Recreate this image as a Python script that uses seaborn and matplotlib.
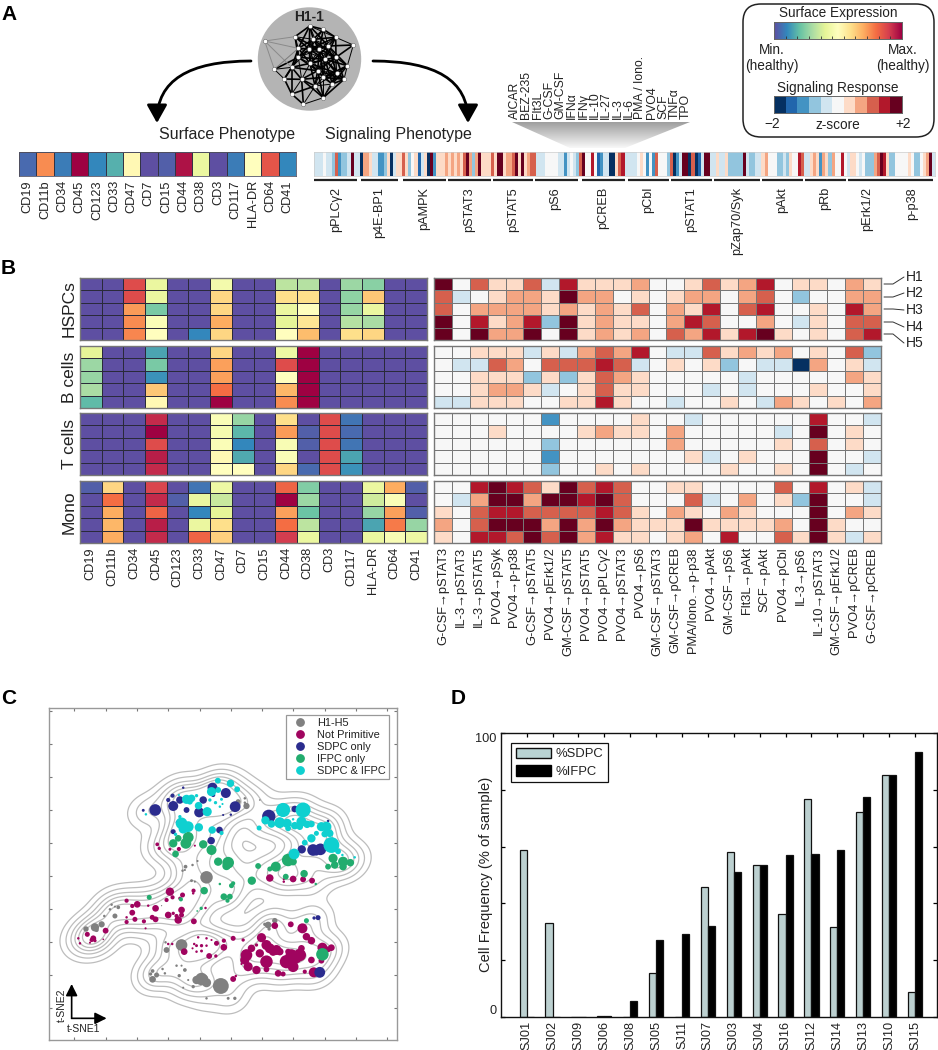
import numpy as np, pandas as pd
import matplotlib
matplotlib.use("Agg")
import matplotlib.pyplot as plt
from matplotlib.patches import Circle, FancyArrowPatch, FancyBboxPatch, Polygon, Patch
from matplotlib.lines import Line2D
import seaborn as sns

sns.set_theme(style="white")
plt.rcParams['font.family'] = ['Liberation Sans', 'DejaVu Sans']
plt.rcParams['axes.unicode_minus'] = True

W, H = 938, 1050
TXT = '#222222'

surface_markers = ["CD19","CD11b","CD34","CD45","CD123","CD33","CD47","CD7","CD15","CD44","CD38","CD3","CD117","HLA-DR","CD64","CD41"]
h1_surface = [.05,.75,.08,1.0,.1,.17,.52,0,.03,.97,.42,0,.08,.5,.85,.1]

stimuli = ["AICAR","BEZ-235","Flt3L","G-CSF","GM-CSF","IFNα","IFNγ","IL-10","IL-27","IL-3","IL-6","PMA / Iono.","PVO4","SCF","TNFα","TPO"]
phospho_names = ["pPLCγ2","p4E-BP1","pAMPK","pSTAT3","pSTAT5","pS6","pCREB","pCbl","pSTAT1","pZap70/Syk","pAkt","pRb","pErk1/2","p-p38"]
bar_pPLC = [-1,-1,-1,0,-1,-1,-2,3,-3,-2,-2,-1,5,-1,-1]
bar_p4E = [-5,2,2,1,-1,-1,-3,-3,-2,1,-5,-1,1]
bar_pAMPK = [1,3,1,-2,0,1,-4,-1,1,-5,5,-3,1,1,1]
bar_pSTAT3 = [2,1,2,1,2,1,3,5,2,-2,2,5,1,1,1]
bar_pSTAT5 = [3,1,5,5,1,2,2,3,5,1,5,1,2,3]
bar_pS6 = [3,-1,-1,-1,0,0,0,0,-1,-1,-3,-1,0,-1,-2]
bar_pCREB = [3,5,0,0,4,0,-4,-3,-1,-1,-5,-5,1,3,4]
bar_pCbl = [-1,-1,-1,-1,0,1,0,-3,0,-3,3,0,0,0]
bar_pSTAT1 = [-2,3,-5,-3,-1,5,5,-5,3,-5,-4,-1,5,5]
bar_pZap = [-1,-1,1,-1,-1,1,-2,-2,-2,-2,-2,5,-1,-2,-2,-1]
bar_pAkt = [-1,1,2,0,0,0,-2,-2,-1,-2,1,0,0,4]
bar_pRb = [3,-1,-1,1,2,1,-3,2,1,-2,2,0,0,4]
bar_pErk = [0,-1,1,1,0,-1,0,-2,-2,-2,2,3,5,4,1]
bar_pp38 = [-2,-2,0,0,0,0,1,0,-2,-2,0,1,2,5,-1]

surf_hspc = [[0,0,.87,.42,0,0,.45,0,0,.33,.32,0,.28,.25,0,0],
             [0,0,.87,.42,0,0,.62,0,0,.6,.6,0,.26,.65,0,0],
             [0,0,.73,.23,0,0,.62,0,0,.42,.5,0,.27,.42,0,0],
             [0,0,.75,.48,0,0,.7,0,0,.4,.58,0,.32,.3,0,0],
             [0,0,.76,.5,0,.1,.62,0,0,.5,.67,0,.6,.62,0,0]]
surf_b = [[.4,0,0,.15,0,0,.62,0,0,.43,1,0,0,0,0,0],
          [.28,0,0,.23,0,0,.72,0,0,.87,1,0,0,0,0,0],
          [.27,0,0,.12,0,0,.72,0,0,.5,1,0,0,0,0,0],
          [.3,0,0,.65,0,0,.8,0,0,.68,1,0,0,0,0,0],
          [.19,0,0,.52,0,0,1,0,0,.75,1,0,0,0,0,0]]
surf_t = [[0,0,0,.93,0,0,.48,.27,0,.6,0,.87,.07,0,0,0],
          [0,0,0,1,0,0,.46,.18,0,.73,.03,.87,.05,0,0,0],
          [0,0,0,.87,0,0,.48,.1,0,.47,.03,.87,.07,0,0,0],
          [0,0,0,.95,0,0,.52,.16,0,.48,0,.87,.15,0,0,0],
          [0,0,0,.93,0,0,.5,.5,0,.62,.05,.87,.12,0,0,0]]
surf_mono = [[.03,.62,0,.88,0,.07,.43,0,0,.82,.24,0,0,.42,.7,.03],
             [0,.8,0,.93,.03,.42,.35,0,0,1,.28,0,0,.36,.48,0],
             [0,.7,0,.82,0,.1,.4,0,0,.72,.21,0,0,.27,.72,.03],
             [0,.68,0,.95,0,.42,.6,0,0,.8,.33,0,0,.15,.78,.27],
             [0,.7,0,.93,0,.82,.63,0,0,.9,.42,0,0,.42,.47,.43]]

signal_labels = ["G-CSF→pSTAT3","IL-3→pSTAT3","IL-3→pSTAT5","PVO4→pSyk","PVO4→p-p38","G-CSF→pSTAT5","PVO4→pErk1/2","GM-CSF→pSTAT5","PVO4→pSTAT5","PVO4→pPLCγ2","PVO4→pSTAT3","PVO4→pS6","GM-CSF→pSTAT3","GM-CSF→pCREB","PMA/Iono.→p-p38","PVO4→pAkt","GM-CSF→pS6","Flt3L→pAkt","SCF→pAkt","PVO4→pCbl","IL-3→pS6","IL-10→pSTAT3","GM-CSF→pErk1/2","PVO4→pCREB","G-CSF→pCREB"]
sig_hspc = [[5,0,3,1,1,3,-1,4,1,1,1,2,0,0,1,3,1,2,4,0,1,1,0,2,1],
            [3,-1,0,1,2,2,1,5,2,2,0,1,0,1,2,2,0,2,3,0,-2,0,0,2,2],
            [3,0,2,2,2,2,1,2,1,2,1,3,0,2,1,4,0,3,4,0,0,1,0,4,2],
            [5,0,4,1,2,4,-2,5,1,2,1,1,0,2,4,3,0,0,2,0,-1,1,0,3,3],
            [5,0,5,2,2,5,0,5,1,2,1,2,0,3,2,4,1,4,5,1,0,1,0,3,4]]
sig_b = [[0,0,1,1,1,-1,1,-1,2,3,2,4,0,-1,-1,3,1,2,1,2,0,1,0,3,-2],
         [0,-1,-1,3,2,0,3,3,3,4,3,-1,0,1,0,1,-2,0,-1,-1,-5,2,0,1,-1],
         [0,0,1,1,1,-2,1,-2,1,3,2,1,0,0,0,0,0,-1,0,0,0,0,0,2,1],
         [0,0,1,2,2,1,-1,0,1,3,1,1,0,0,0,-1,0,-1,0,0,0,1,0,0,1],
         [-1,-1,1,1,1,0,0,1,1,4,1,0,0,-1,0,0,1,0,-1,2,1,0,1,0,2]]
sig_t = [[0,0,0,0,0,0,-3,0,0,0,0,1,0,0,-1,0,0,0,0,0,0,4,0,0,-1],
         [0,0,0,1,0,0,0,0,1,2,1,1,0,2,0,0,0,0,0,-1,0,5,0,1,0],
         [0,0,0,0,0,0,-2,0,0,0,0,0,0,2,0,0,0,0,0,1,0,3,0,1,0],
         [0,0,0,0,0,0,-3,0,0,0,0,0,0,0,1,-1,0,1,0,0,0,5,0,0,-1],
         [0,0,0,0,0,0,-2,0,0,1,0,1,0,0,0,0,1,0,0,1,0,5,0,-1,0]]
sig_mono = [[0,0,4,5,4,3,1,5,3,4,3,0,0,1,1,0,0,0,0,3,0,4,0,1,-1],
            [0,-1,2,5,5,2,5,5,4,5,3,0,0,0,3,-1,0,2,0,1,-2,5,0,0,-1],
            [1,0,3,4,4,3,3,3,3,4,3,1,0,2,1,0,2,1,0,0,0,5,0,2,1],
            [2,0,3,5,5,5,2,5,2,5,2,1,1,1,5,1,1,1,1,2,0,5,1,0,0],
            [1,0,4,4,3,5,3,5,2,4,1,1,0,1,2,0,4,0,0,3,1,5,1,-1,1]]
population_names = ["HSPCs","B cells","T cells","Mono"]
h_names = ["H1","H2","H3","H4","H5"]

pts_h = [(620,592,30),(545,795,28),(663,918,38),(605,897,30),(620,908,22),(590,900,20),(615,895,16),(285,742,20),(305,733,15),(258,747,13),(290,750,10),(345,708,12),(355,682,9),(335,674,6),(345,680,5),(330,688,6),(313,708,6),(500,810,14),(497,787,6),(805,735,16),(825,722,13),(808,747,8),(795,733,8),(458,898,16),(458,873,9),(470,885,12),(452,882,8),(488,867,6),(495,880,6),(530,857,6),(545,857,5),(555,870,9),(538,887,8),(565,900,5),(580,920,8),(550,923,5),(620,955,6),(685,955,7),(705,955,8),(715,365,12),(740,378,15),(735,355,6),(780,360,4),(735,368,6),(575,602,7),(585,605,5),(557,560,9),(578,555,6),(593,543,5),(548,572,6),(555,570,5),(485,677,3)]
pts_np = [(785,773,22),(800,795,24),(830,810,24),(810,805,24),(780,820,20),(800,845,30),(820,815,20),(740,825,28),(735,840,22),(755,805,18),(745,860,22),(770,870,20),(800,868,14),(835,880,16),(850,882,12),(860,845,32),(880,860,26),(900,825,30),(875,825,28),(890,835,24),(905,805,16),(865,815,14),(840,815,18),(935,840,16),(908,745,24),(920,770,18),(935,782,18),(915,875,10),(942,877,24),(968,803,24),(995,803,16),(985,808,14),(965,842,14),(825,737,16),(873,733,14),(700,775,12),(730,780,8),(672,782,10),(672,802,16),(650,790,12),(648,828,8),(628,828,14),(553,815,16),(505,792,6),(517,792,6),(583,792,6),(595,772,6),(620,775,6),(635,780,5),(620,797,6),(605,797,8),(590,797,7),(578,805,5),(605,813,7),(590,815,6),(700,897,14),(708,888,6),(725,852,5),(770,795,8),
          (317,752,14),(262,763,12),(280,775,14),(275,780,10),(285,782,8),(235,775,6),(240,790,6),(270,788,5),(310,778,4),(380,662,10),(397,678,10),(412,673,16),(397,698,14),(380,712,6),(405,718,12),(380,726,10),(432,724,10),(437,745,5),(457,712,12),(467,718,14),(467,685,16),(445,677,6),(500,660,10),(510,635,20),(518,652,10),(548,645,12),(540,655,8),(581,632,10),(580,640,6),(608,632,8),(505,705,16),(520,700,8),(545,690,16),(545,705,12),(535,720,18),(530,708,10),(582,724,14),(617,684,6),
          (472,493,9),(478,505,8),(510,508,7),(537,507,10),(585,497,5),(810,594,18),(880,597,16),(852,605,6),(910,598,14),(937,602,14),(852,598,5)]
pts_sd = [(466,390,28),(520,378,24),(540,360,18),(505,360,10),(518,347,10),(550,323,6),(430,391,7),(560,390,14),(610,360,18),(598,397,24),(638,323,24),(678,339,24),(706,380,26),(693,404,6),(670,405,5),(652,328,6),(807,409,32),(885,387,16),(985,423,6),(520,455,12),(533,427,9),(634,482,18),(659,450,16),(906,508,20),(940,510,28),(962,508,28),(950,518,14),(960,877,26),(943,714,8),(955,713,12),(640,345,10)]
pts_if = [(520,490,20),(535,475,16),(565,472,26),(558,490,26),(527,522,16),(610,493,20),(635,510,24),(655,545,20),(685,548,28),(680,558,20),(775,558,14),(756,602,20),(700,610,10),(695,617,12),(672,650,16),(690,650,14),(683,662,10),(613,632,18),(660,612,6),(604,685,8),(592,693,4),(543,658,10),(448,652,12),(828,560,24),(810,567,12),(858,590,14),(865,540,30),(880,545,18),(913,581,18),(948,612,6),(1000,535,22),(985,560,14),(1005,555,18),(1030,545,24),(1030,560,18),(1052,548,18),(968,823,30),(920,722,12)]
pts_both = [(850,390,34),(910,390,36),(654,302,14),(692,310,18),(712,328,14),(560,358,22),(575,355,18),(570,365,14),(596,377,18),(622,395,22),(635,335,22),(655,330,14),(630,360,8),(647,368,8),(665,358,7),(660,380,6),(668,372,5),(590,347,8),(537,345,5),(438,403,6),(545,430,28),(565,440,26),(550,447,22),(597,442,20),(637,450,18),(540,410,8),(527,463,8),(665,459,10),(778,444,12),(797,421,20),(815,432,18),(840,428,26),(862,430,22),(880,418,6),(865,445,14),(885,437,18),(905,425,24),(900,440,16),(922,433,18),(935,432,16),(965,440,22),(980,440,24),(990,460,18),(975,462,16),(995,495,38),(935,475,20),(950,460,12),(915,488,14),(883,522,26),(1015,514,14),(1028,525,6),(1065,532,6)]
group_names = ["H1-H5","Not Primitive","SDPC only","IFPC only","SDPC & IFPC"]
group_colors = ["#808080","#a0045f","#2b2c8e","#22ac6e","#0fd0d0"]

samples = ["SJ01","SJ02","SJ09","SJ06","SJ08","SJ05","SJ11","SJ07","SJ03","SJ04","SJ16","SJ12","SJ14","SJ13","SJ10","SJ15"]
sdpc = [58.7,33.2,0,.4,0,15.6,0,45.8,58.1,53.4,36.3,76.9,31.8,72.2,85.1,8.8]
ifpc = [0,0,0,.2,5.6,27.2,29.3,32,51,53.4,57.2,57.3,58.9,77.5,85.1,93.3]

net_nodes = [(929,78),(970,88),(885,110),(1007,112),(940,118),(985,138),(1060,135),(895,145),(928,148),(958,148),(1008,172),(975,178),(930,190),(875,202),(823,208),(1042,197),(953,212),(1010,220),(905,238),(853,237),(970,232),(1032,238),(945,258),(997,252),(875,282),(970,293),(910,313),(895,172)]
net_outlier = (794,123)

fig = plt.figure(figsize=(W/100, H/100), dpi=100)

def px_ax(x0, y0, x1, y1, **kw):
    return fig.add_axes([x0/W, 1-y1/H, (x1-x0)/W, (y1-y0)/H], **kw)

ov = px_ax(0, 0, W, H, zorder=5)
ov.set_xlim(0, W); ov.set_ylim(H, 0); ov.axis('off'); ov.patch.set_alpha(0)

spectral = plt.get_cmap("Spectral_r")
rdbu = plt.get_cmap("RdBu_r", 11)

def frame(ax, color='#777777', lw=1.0):
    for s in ax.spines.values():
        s.set_visible(True); s.set_color(color); s.set_linewidth(lw)

# ---------- Panel A
for lab, x, y in [("A", 1, 14), ("B", 1, 269), ("C", 1, 699), ("D", 451, 699)]:
    ov.text(x, y, lab, fontsize=15, fontweight='bold', color='black', va='center', ha='left')

ov.add_patch(Circle((309.5, 59), 51.7, fc='#b4b4b4', ec='none'))
ov.text(309, 17, "H1-1", fontsize=10, fontweight='bold', ha='center', va='center', color='#222222')
nodes = np.array(net_nodes)/3
for i in range(len(nodes)):
    for j in range(i+1, len(nodes)):
        d = np.hypot(*(nodes[i]-nodes[j]))
        if d < 29:
            ov.plot(*zip(nodes[i], nodes[j]), color='black', lw=1.2 if (i+j) % 3 else 0.7, zorder=3)
out = np.array(net_outlier)/3
for j in [2, 7, 14, 13]:
    ov.plot(*zip(out, nodes[j]), color='#8a8a8a', lw=0.7, zorder=3)
ov.plot(*zip(nodes[14], nodes[7]), color='#7a7a7a', lw=0.7, zorder=3)
ov.scatter(*np.vstack([nodes, out]).T, s=9, c='white', edgecolors='#444444', linewidths=0.3, zorder=4)

for (a, b) in [((251, 61), (157, 123)), ((373, 61), (468, 123))]:
    ov.add_patch(FancyArrowPatch(a, b, connectionstyle="angle3,angleA=0,angleB=90",
                 arrowstyle="-|>,head_length=0.5,head_width=0.28", mutation_scale=22, lw=2, color='black', shrinkA=0, shrinkB=0))
ov.text(295, 135, "Surface Phenotype", fontsize=11.5, ha='right', va='center', color=TXT)
ov.text(325, 135, "Signaling Phenotype", fontsize=11.5, ha='left', va='center', color=TXT)

ax = px_ax(19, 152, 296, 176)
sns.heatmap(np.array([h1_surface]), ax=ax, cmap=spectral, vmin=0, vmax=1, cbar=False, linewidths=0.6, linecolor='#333344',
            xticklabels=surface_markers, yticklabels=False)
ax.tick_params(axis='x', length=0, pad=3, labelsize=9.2, labelcolor=TXT, rotation=90)
frame(ax, '#555566', 0.6)

groups = [bar_pPLC, bar_p4E, bar_pAMPK, bar_pSTAT3, bar_pSTAT5, bar_pS6, bar_pCREB, bar_pCbl, bar_pSTAT1, bar_pZap, bar_pAkt, bar_pRb, bar_pErk, bar_pp38]
barcode = np.array(sum(groups, []))
ax = px_ax(314, 152, 935, 176)
sns.heatmap(barcode[None, :], ax=ax, cmap=rdbu, vmin=-5.5, vmax=5.5, cbar=False, xticklabels=False, yticklabels=False)
frame(ax, '#cccccc', 0.5)
spans = [(314,357),(361,398),(403,446),(448,491),(493,533),(535,578),(582,625),(628,669),(671,712),(714,760),(762,803),(805,846),(848,890),(890,933)]
label_x = [336,379,424,469,513,555,603,648,691,737,782,825,867,912]
for i, ((s0, s1), name) in enumerate(zip(spans, phospho_names)):
    ov.plot([s0, s1], [180, 180], color='#222222', lw=1.6, solid_capstyle='butt')
    ov.text(label_x[i], 187, name, rotation=90, ha='center', va='top', fontsize=9.2, color=TXT)

grad = ov.imshow(np.linspace(0.62, 0.97, 64)[:, None], extent=(512, 690, 148, 122), cmap='gray', vmin=0, vmax=1, aspect='auto', zorder=1)
wedge = Polygon([(512, 122), (690, 122), (625, 148), (570, 148)], transform=ov.transData, fc='none', ec='none')
ov.add_patch(wedge); grad.set_clip_path(wedge)
ov.set_xlim(0, W); ov.set_ylim(H, 0)
stim_x = np.linspace(515, 686, len(stimuli))
for x, s in zip(stim_x, stimuli):
    ov.text(x, 119, s, rotation=90, ha='center', va='bottom', fontsize=8.8, color=TXT)

ov.add_patch(FancyBboxPatch((757, 18), 163, 105, boxstyle="round,pad=14,rounding_size=18", fc='white', ec='#222222', lw=1.1, zorder=0))
ov.text(838, 13, "Surface Expression", fontsize=9.8, ha='center', va='center', color=TXT)
ov.text(772, 50, "Min.", fontsize=9.8, ha='center', va='center', color=TXT)
ov.text(772, 66, "(healthy)", fontsize=9.8, ha='center', va='center', color=TXT)
ov.text(903, 50, "Max.", fontsize=9.8, ha='center', va='center', color=TXT)
ov.text(903, 66, "(healthy)", fontsize=9.8, ha='center', va='center', color=TXT)
ov.text(838, 88, "Signaling Response", fontsize=9.8, ha='center', va='center', color=TXT)
ov.text(772, 124, "−2", fontsize=9.8, ha='center', va='center', color=TXT)
ov.text(838, 125, "z-score", fontsize=9.8, ha='center', va='center', color=TXT)
ov.text(903, 124, "+2", fontsize=9.8, ha='center', va='center', color=TXT)

cb = px_ax(774, 22, 902, 39, zorder=6)
cb.imshow(np.linspace(0, 1, 256)[None, :], cmap=spectral, aspect='auto', extent=(0, 1, 0, 1))
cb.set_xticks(np.linspace(0, 1, 12)); cb.set_yticks([]); cb.set_xticklabels([])
cb.tick_params(axis='x', direction='in', length=2, width=0.6, color='#333333', bottom=True)
frame(cb, '#666666', 0.7)
cb2 = px_ax(774, 96, 902, 113, zorder=6)
sns.heatmap(np.arange(-5, 6)[None, :], ax=cb2, cmap=rdbu, vmin=-5.5, vmax=5.5, cbar=False, xticklabels=False, yticklabels=False)
frame(cb2, '#666666', 0.7)

# ---------- Panel B
rows = [(278, 340), (346, 408), (413, 475), (481, 543)]
surf_all = [surf_hspc, surf_b, surf_t, surf_mono]
sig_all = [sig_hspc, sig_b, sig_t, sig_mono]
for k, (y0, y1) in enumerate(rows):
    last = k == 3
    ax = px_ax(80, y0, 427, y1)
    sns.heatmap(np.array(surf_all[k]), ax=ax, cmap=spectral, vmin=0, vmax=1, cbar=False, linewidths=0.5, linecolor='#2a2a3a',
                xticklabels=surface_markers if last else False, yticklabels=False)
    frame(ax)
    ax.tick_params(axis='x', length=0, pad=3, labelsize=9.2, labelcolor=TXT, rotation=90)
    ov.text(69, (y0+y1)/2, population_names[k], rotation=90, ha='center', va='center', fontsize=12.5, color=TXT)

    ax = px_ax(434, y0, 881, y1)
    sns.heatmap(np.array(sig_all[k]), ax=ax, cmap=rdbu, vmin=-5.5, vmax=5.5, cbar=False, linewidths=0.5, linecolor='#777777',
                xticklabels=signal_labels if last else False, yticklabels=False)
    frame(ax)
    ax.tick_params(axis='x', length=0, pad=3, labelsize=9.3, labelcolor=TXT, rotation=90)

row_y = [284, 297, 309, 322, 334]
lab_y = [277, 293, 310, 327, 343]
for ry, ly, name in zip(row_y, lab_y, h_names):
    ov.plot([884, 893, 904], [ry, ry, ly], color='#333333', lw=0.7)
    ov.text(906, ly, name, fontsize=10, ha='left', va='center', color=TXT)

# ---------- Panel C
ax = px_ax(49, 708, 397, 1040)
rowsC = []
for name, pts in zip(group_names, [pts_h, pts_np, pts_sd, pts_if, pts_both]):
    rowsC += [(x, y, s, name) for x, y, s in pts]
dfC = pd.DataFrame(rowsC, columns=["tsne1", "tsne2", "size", "group"])
sns.kdeplot(data=dfC, x="tsne1", y="tsne2", ax=ax, levels=[.02,.07,.16,.3,.5,.72], bw_method=0.185, color='#bdbdbd', linewidths=0.9, zorder=1)
dfC["area"] = (dfC["size"]*1.25/3*0.72)**2
sns.scatterplot(data=dfC, x="tsne1", y="tsne2", hue="group", palette=dict(zip(group_names, group_colors)),
                size="area", sizes=(dfC["area"].min(), dfC["area"].max()), linewidth=0, ax=ax, legend=False, zorder=2, alpha=1)
ax.set_xlim(147, 1192); ax.set_ylim(1080, 84)
ax.set_xticks(np.arange(223, 1190, 94)); ax.set_yticks(np.arange(94, 1080, 99))
ax.set_xticklabels([]); ax.set_yticklabels([]); ax.set_xlabel(""); ax.set_ylabel("")
ax.tick_params(direction='in', length=2.5, width=0.8, color='#777777', top=True, right=True, bottom=True, left=True)
frame(ax, '#999999', 1.0)
handles = [Line2D([], [], ls='', marker='o', ms=5.3, color=c, label=n) for n, c in zip(group_names, group_colors)]
leg = ax.legend(handles=handles, loc='upper right', bbox_to_anchor=(0.977, 0.979), fontsize=7.9, frameon=True, fancybox=False,
                edgecolor='#999999', framealpha=1, borderaxespad=0, labelspacing=0.17, handletextpad=0.55, borderpad=0.3, labelcolor=TXT)
leg.get_frame().set_linewidth(0.9)
kw = dict(arrowstyle="-|>,head_length=0.7,head_width=0.35", mutation_scale=10, lw=1.2, color='black', shrinkA=0, shrinkB=0)
ax.add_patch(FancyArrowPatch((215, 1015), (215, 912), **kw))
ax.add_patch(FancyArrowPatch((215, 1015), (320, 1015), **kw))
ax.text(185, 975, "t-SNE2", rotation=90, ha='center', va='center', fontsize=7.5, color=TXT)
ax.text(250, 1047, "t-SNE1", ha='center', va='center', fontsize=7.5, color=TXT)

# ---------- Panel D
ax = px_ax(501, 733, 937, 1017)
dfD = pd.DataFrame({"sample": samples*2, "freq": sdpc+ifpc, "type": ["%SDPC"]*16+["%IFPC"]*16})
sns.barplot(data=dfD, x="sample", y="freq", hue="type", order=samples, palette={"%SDPC": "#b9d3d3", "%IFPC": "black"},
            width=0.55, dodge=True, edgecolor='#111111', linewidth=0.9, ax=ax, legend=False)
ax.set_xlim(-0.99, 15.85); ax.set_ylim(0, 100)
ax.set_yticks(np.arange(0, 101, 20)); ax.set_yticklabels(["0", "", "", "", "", "100"])
ax.get_yticklabels()[0].set_va('bottom'); ax.get_yticklabels()[-1].set_va('top')
ax.tick_params(axis='both', direction='in', length=3, width=0.9, color='black', top=True, right=True, bottom=False, left=True, pad=3)
ax.tick_params(axis='x', rotation=90, labelsize=9.2, labelcolor=TXT, top=True)
ax.tick_params(axis='y', labelsize=9.2, labelcolor=TXT)
ax.set_xlabel(""); ax.set_ylabel("")
ov.text(486, 874, "Cell Frequency (% of sample)", rotation=90, ha='center', va='center', fontsize=10.6, color=TXT)
frame(ax, '#111111', 1.0)
leg = ax.legend(handles=[Patch(fc="#b9d3d3", ec='#111111', label="%SDPC"), Patch(fc="black", ec='black', label="%IFPC")],
                loc='upper left', bbox_to_anchor=(0.024, 0.965), fontsize=9.4, fancybox=False, edgecolor='#111111', framealpha=1,
                borderaxespad=0, handlelength=2.7, handleheight=0.9, handletextpad=0.35, labelspacing=0.35, borderpad=0.35, labelcolor=TXT)
leg.get_frame().set_linewidth(0.9)

fig.savefig("out.png", dpi=100)
